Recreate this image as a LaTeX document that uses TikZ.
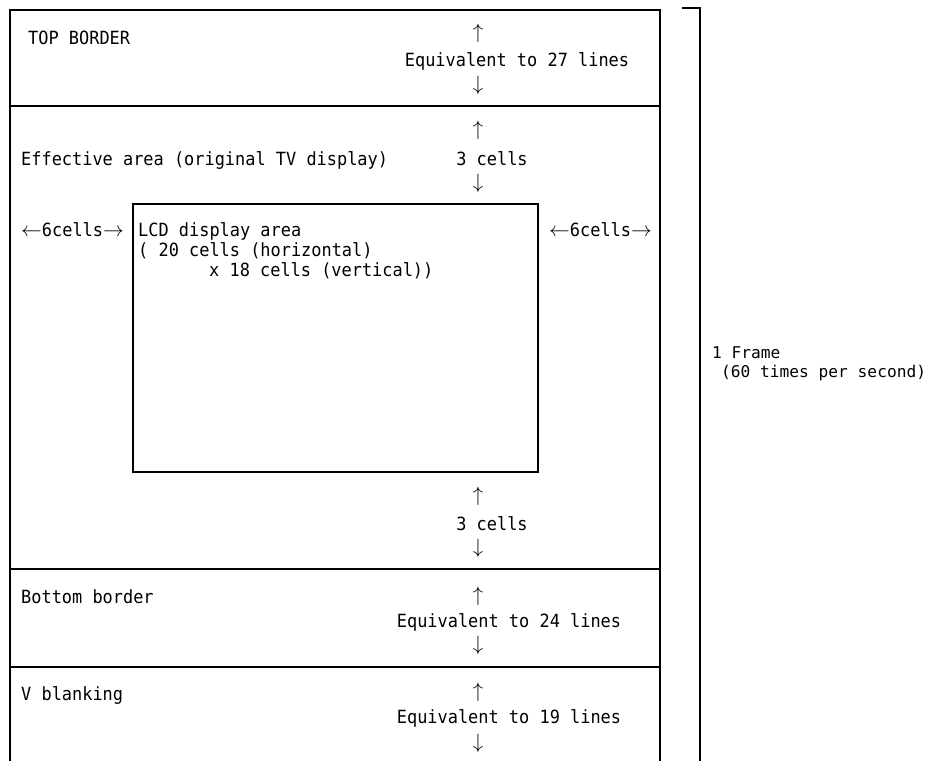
\documentclass[tikz,border=0pt]{standalone}
\usepackage{fontspec}
\newfontfamily\gfont[FakeStretch=0.93]{DejaVu Sans Mono}
\newfontfamily\rfont{DejaVu Sans Mono}
\newcommand{\la}{{\fontsize{20}{20}\selectfont$\leftarrow$}}
\newcommand{\ra}{{\fontsize{20}{20}\selectfont$\rightarrow$}}
\begin{document}
\begin{tikzpicture}[x=1pt,y=-1pt,
  frameline/.style={line width=1.5pt, black},
  lbl/.style={font=\gfont\fontsize{18.2}{19}\selectfont, inner sep=0pt, anchor=base west},
  clbl/.style={font=\gfont\fontsize{18.2}{19}\selectfont, inner sep=0pt, anchor=base},
  arr/.style={font=\fontsize{21}{21}\selectfont, inner sep=0pt, anchor=center},
  side/.style={font=\rfont\fontsize{16.2}{17}\selectfont, inner sep=0pt, anchor=base west}]
\useasboundingbox (0,0) rectangle (936,761);

% outer frame, open at the bottom
\coordinate (fbl) at (10,761);
\coordinate (ftl) at (10,10);
\coordinate (ftr) at (660,10);
\coordinate (fbr) at (660,761);
\draw[frameline] (fbl) -- (ftl) -- (ftr) -- (fbr);

% section dividers
\coordinate (d1l) at (10,106);  \coordinate (d1r) at (660,106);
\coordinate (d2l) at (10,569);  \coordinate (d2r) at (660,569);
\coordinate (d3l) at (10,667);  \coordinate (d3r) at (660,667);
\draw[frameline] (d1l) -- (d1r);
\draw[frameline] (d2l) -- (d2r);
\draw[frameline] (d3l) -- (d3r);

% LCD display area
\coordinate (lcdtl) at (133,204);
\coordinate (lcdbr) at (538,472);
\draw[frameline] (lcdtl) rectangle (lcdbr);

% frame bracket on the right
\coordinate (bt) at (682,8);
\coordinate (btr) at (700,8);
\coordinate (bb) at (700,761);
\draw[frameline] (bt) -- (btr) -- (bb);

% top border
\node[lbl] (topb) at (28,44) {TOP BORDER};
\node[arr] (tu) at (478,33) {$\uparrow$};
\node[clbl] (teq) at (517,66) {Equivalent to 27 lines};
\node[arr] (td) at (478,85) {$\downarrow$};

% effective area
\node[lbl] (eff) at (21,165) {Effective area (original TV display)};
\node[arr] (eu) at (478,130) {$\uparrow$};
\node[clbl] (ec) at (492,165) {3 cells};
\node[arr] (ed) at (478,183) {$\downarrow$};

\node[lbl] (lsix) at (21,236) {\la6cells\ra};
\node[lbl] (rsix) at (549,236) {\la6cells\ra};

\node[lbl] (lcd1) at (138,236) {LCD display area};
\node[lbl] (lcd2) at (138,256) {( 20 cells (horizontal)};
\node[lbl] (lcd3) at (209,276) {x 18 cells (vertical))};

\node[arr] (bu) at (478,496) {$\uparrow$};
\node[clbl] (bc) at (492,530) {3 cells};
\node[arr] (bd) at (478,548) {$\downarrow$};

% bottom border
\node[lbl] (botb) at (21,603) {Bottom border};
\node[arr] (ou) at (478,596) {$\uparrow$};
\node[clbl] (oeq) at (509,627) {Equivalent to 24 lines};
\node[arr] (od) at (478,645) {$\downarrow$};

% vertical blanking
\node[lbl] (vbl) at (21,700) {V blanking};
\node[arr] (vu) at (478,692) {$\uparrow$};
\node[clbl] (veq) at (509,723) {Equivalent to 19 lines};
\node[arr] (vd) at (478,743) {$\downarrow$};

% frame label
\node[side] (fr1) at (712,358) {1 Frame};
\node[side] (fr2) at (721,377) {(60 times per second)};
\end{tikzpicture}
\end{document}
